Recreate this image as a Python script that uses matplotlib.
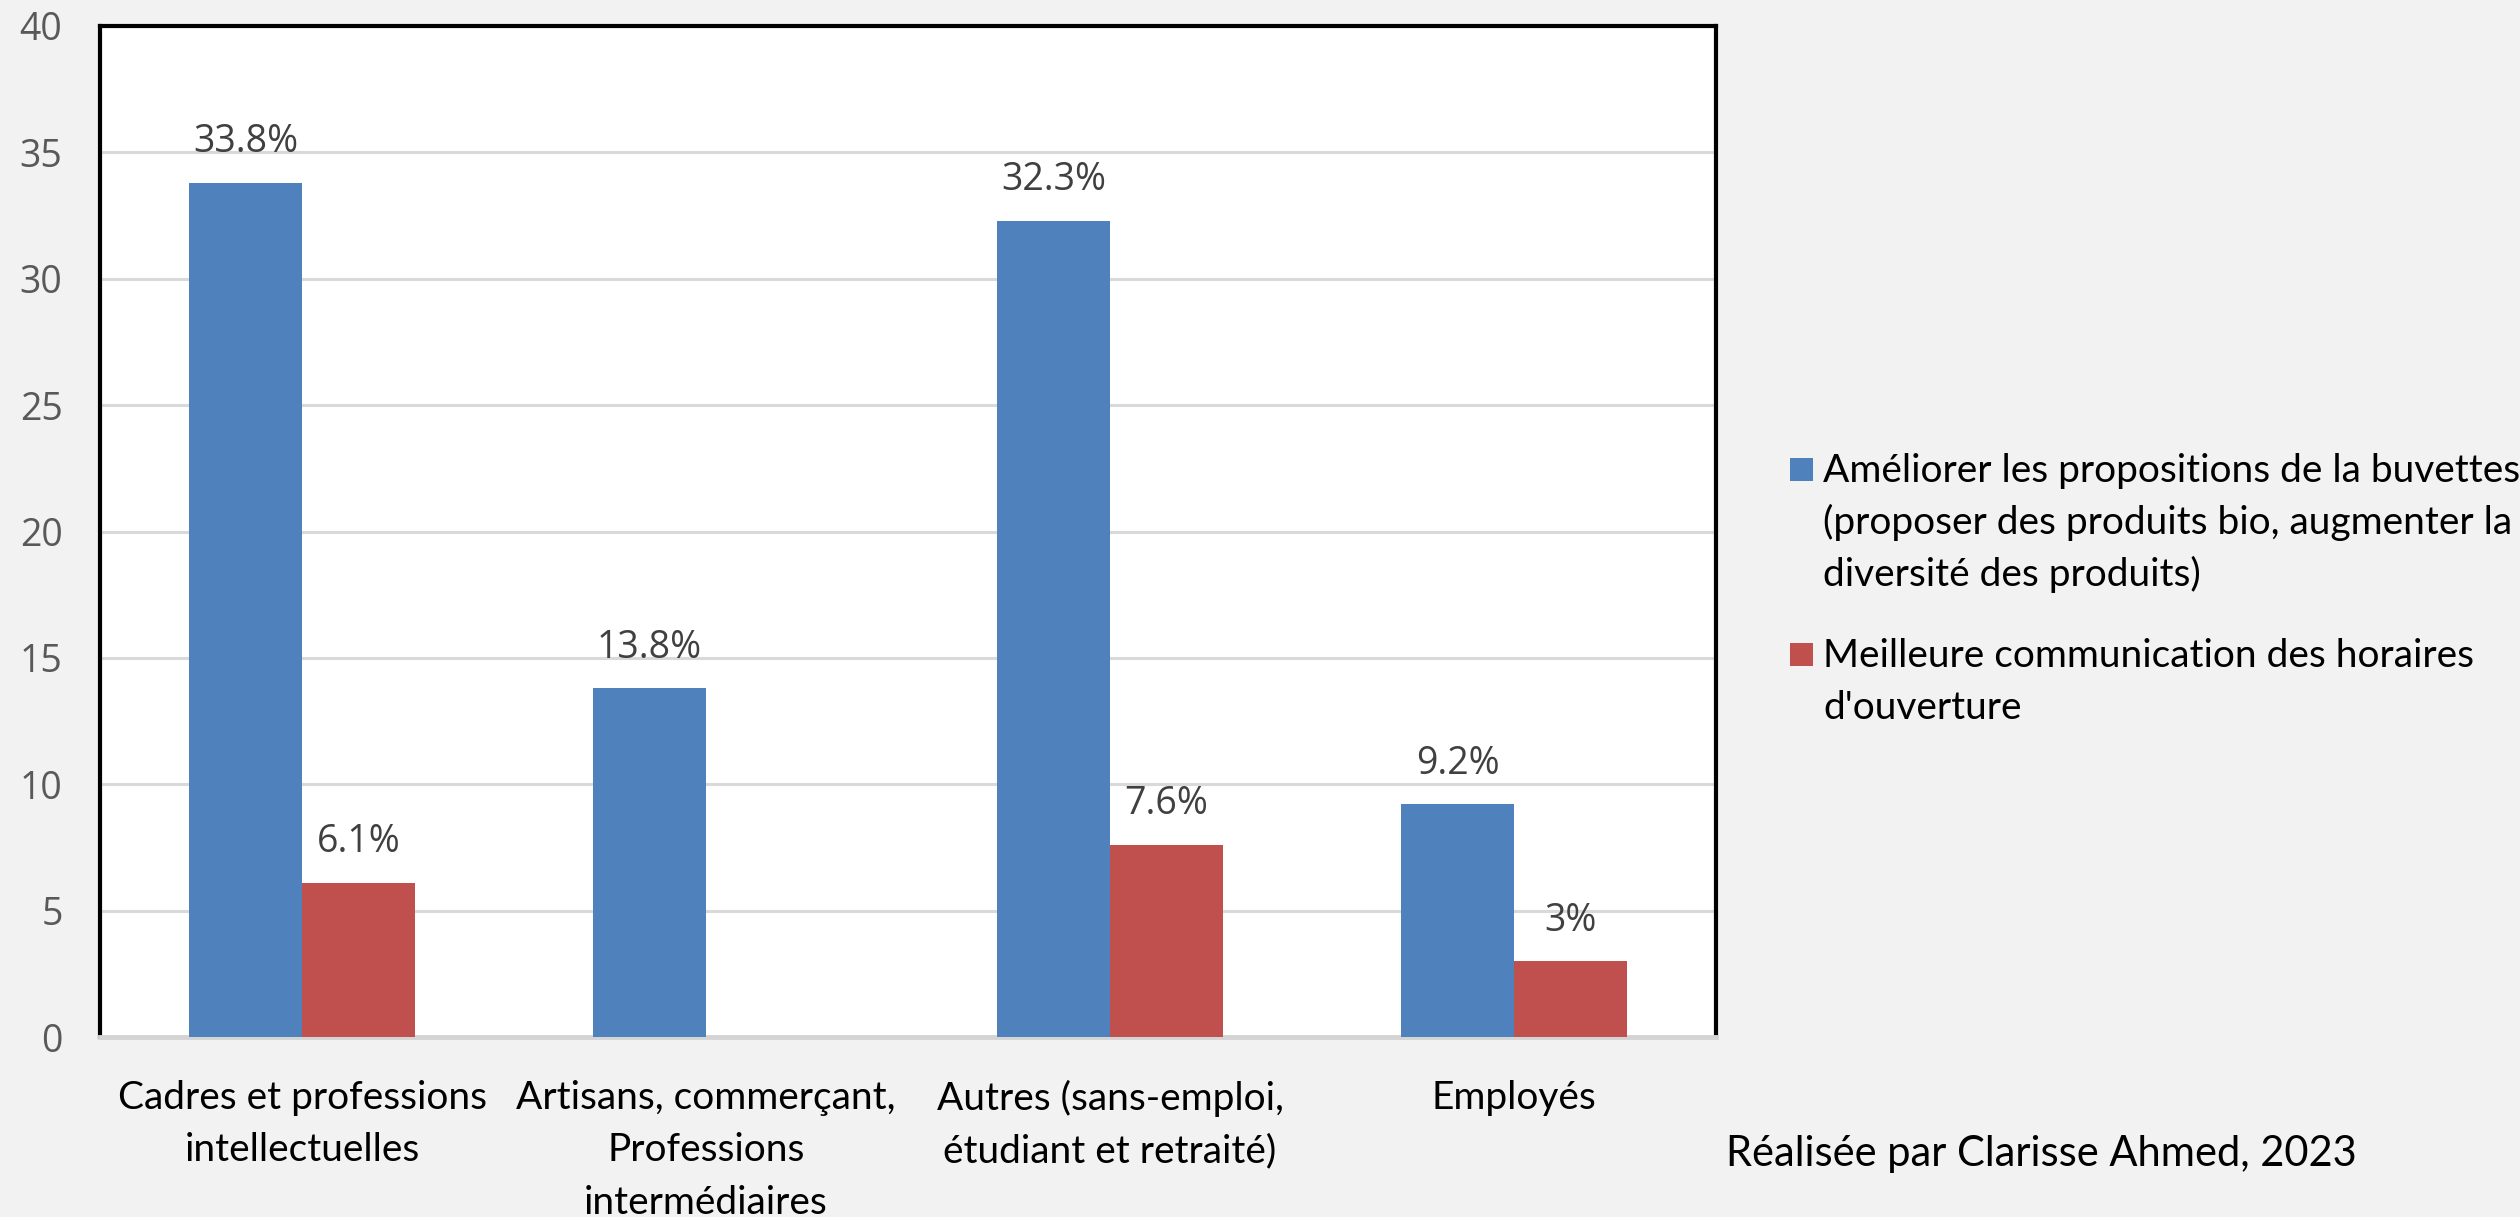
import matplotlib
matplotlib.use("Agg")
import matplotlib.pyplot as plt
from matplotlib.patches import Rectangle
import numpy as np

# ---- data ----
categories = [
    "Cadres et professions\nintellectuelles",
    "Artisans, commerçant,\nProfessions\nintermédiaires",
    "Autres (sans-emploi,\nétudiant et retraité)",
    "Employés",
]
series_names = [
    "Améliorer les propositions de la buvettes\n(proposer des produits bio, augmenter la\ndiversité des produits)",
    "Meilleure communication des horaires\nd'ouverture",
]
ameliorer = [33.8, 13.8, 32.3, 9.2]
communication = [6.1, np.nan, 7.6, 3.0]
labels_ameliorer = ["33.8%", "13.8%", "32.3%", "9.2%"]
labels_communication = ["6.1%", "", "7.6%", "3%"]
yticks = [0, 5, 10, 15, 20, 25, 30, 35, 40]
credit = "Réalisée par Clarisse Ahmed, 2023"

colors = ["#4f81bd", "#c0504d"]

W, H = 2520, 1217
fig = plt.figure(figsize=(W / 100, H / 100), dpi=100, facecolor="#f2f2f2")
ax = fig.add_axes([100 / W, 180 / H, (1716 - 100) / W, (1037 - 26) / H])
ax.set_facecolor("white")

label_font = ["Lato", "DejaVu Sans"]
num_font = ["Open Sans", "DejaVu Sans"]

x = np.arange(len(categories))
bw = 0.28
b1 = ax.bar(x - bw / 2, ameliorer, bw, color=colors[0], zorder=3)
b2 = ax.bar(x + bw / 2, communication, bw, color=colors[1], zorder=3)

for bars, vals, labs in [(b1, ameliorer, labels_ameliorer), (b2, communication, labels_communication)]:
    for rect, v, lab in zip(bars, vals, labs):
        if lab and not np.isnan(v):
            ax.annotate(lab, (rect.get_x() + rect.get_width() / 2, v),
                        xytext=(0, 22), textcoords="offset points",
                        ha="center", va="baseline", fontsize=27,
                        family=num_font, color="#404040")

ax.set_xlim(-0.5, len(categories) - 0.5)
ax.set_ylim(0, 40)
ax.set_yticks(yticks)
ax.set_yticklabels([str(t) for t in yticks], family=num_font, fontsize=27, color="#595959")
ax.set_xticks(x)
ax.set_xticklabels(categories, family=label_font, fontsize=28, color="#000000", linespacing=1.56)
ax.tick_params(axis="y", length=0, pad=27)
ax.tick_params(axis="x", length=0, pad=31)

ax.yaxis.grid(True, color="#d9d9d9", linewidth=2.2, zorder=0)
ax.set_axisbelow(True)
for s in ["left", "top", "right"]:
    ax.spines[s].set_color("black")
    ax.spines[s].set_linewidth(3)
ax.spines["bottom"].set_color("#d4d4d4")
ax.spines["bottom"].set_linewidth(3.5)

# ---- legend (drawn in figure pixel coordinates) ----
def fx(px):
    return px / W

def fy(py):
    return 1 - py / H

legend_blocks = [(458, 482), (643, 667)]
line_step = 52
for (sq_top, base), name, col in zip(legend_blocks, series_names, colors):
    fig.patches.append(Rectangle((fx(1790), fy(sq_top + 23)), 23 / W, 23 / H,
                                 transform=fig.transFigure, facecolor=col,
                                 edgecolor="none", figure=fig))
    for i, line in enumerate(name.split("\n")):
        fig.text(fx(1823), fy(base + i * line_step), line, family=label_font,
                 fontsize=28, color="black", ha="left", va="baseline")

fig.text(fx(1726), fy(1166), credit, family=label_font, fontsize=30,
         color="black", ha="left", va="baseline")

fig.savefig("out.png", dpi=100, facecolor=fig.get_facecolor())
